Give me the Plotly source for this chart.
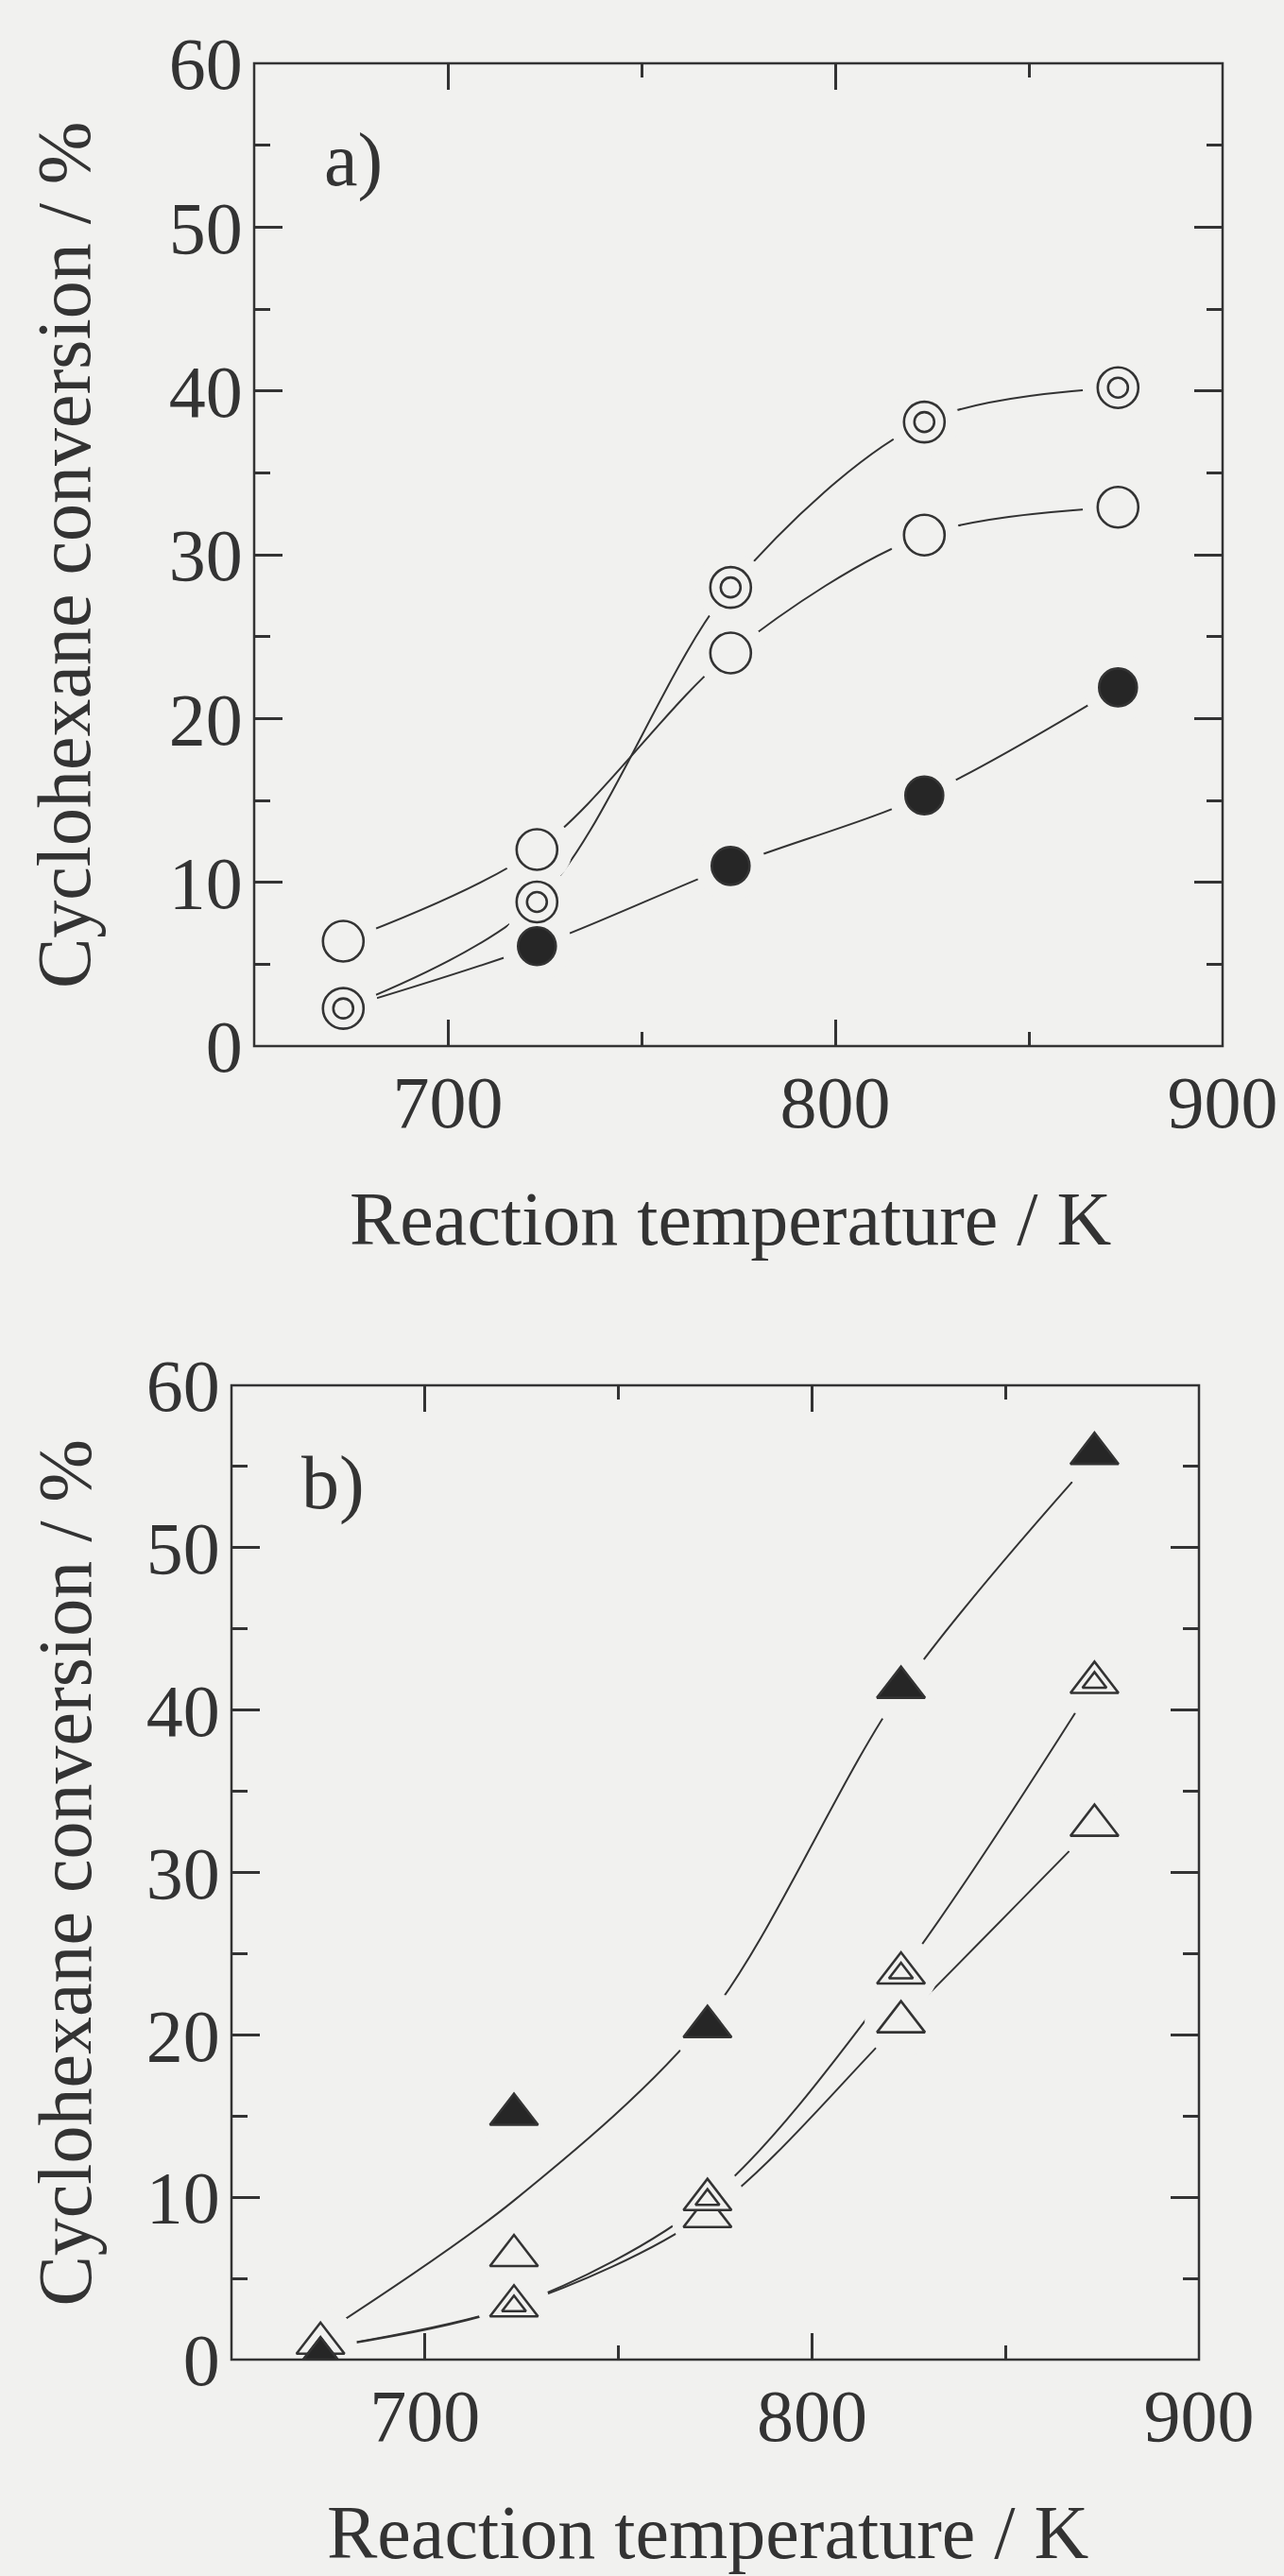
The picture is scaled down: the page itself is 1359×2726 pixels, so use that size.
import plotly.graph_objects as go

W, H = 1359, 2726

PAPER = "#f1f1ef"
INK = "#333333"
FONT = "Liberation Serif"

temperature = [673, 723, 773, 823, 873]

# (a) cyclohexane conversion, %
conv_open_circle = [6.4, 12.0, 24.0, 31.2, 32.9]
conv_double_circle = [2.3, 8.8, 28.0, 38.1, 40.2]
conv_filled_circle = [2.3, 6.1, 11.0, 15.3, 21.9]

# (b) cyclohexane conversion, %
conv_filled_tri = [0.1, 15.1, 20.5, 41.4, 55.8]
conv_open_tri = [1.0, 6.4, 8.8, 20.8, 32.9]
conv_double_tri = [0.1, 3.3, 9.85, 23.8, 41.7]

# smoothed guide curves of panel (b)
curve_filled_tri = [1.5, 9.8, 21.0, 41.2, 55.6]
curve_open_tri = [0.7, 3.3, 9.0, 20.8, 32.9]
curve_double_tri = [0.7, 3.3, 9.8, 23.8, 41.7]

x_range = [650, 900]
y_range = [0, 60]
x_title = "Reaction temperature / K"
y_title = "Cyclohexane conversion / %"
panel_tags = ["a)", "b)"]

# plot boxes in pixels: left, right, top, bottom
BOX_A = (269, 1294, 67, 1107)
BOX_B = (245, 1269, 1466, 2497)


def px_x(v):
    return v / W


def px_y(v):
    return 1 - v / H


def axis_pair(box, suffix):
    x0, x1, y0, y1 = box
    common = dict(
        showline=True, linecolor=INK, linewidth=2.5, mirror="ticks",
        ticks="inside", tickcolor=INK, tickwidth=2.5, automargin=False,
        showgrid=False, zeroline=False, layer="above traces",
        tickfont=dict(family=FONT, size=78, color=INK),
    )
    xa = dict(common, domain=[px_x(x0), px_x(x1)], range=x_range,
              anchor="y" + suffix, tick0=700, dtick=100, ticklen=28,
              ticklabelstandoff=-10,
              minor=dict(dtick=50, tick0=650, ticklen=15, tickwidth=2.5,
                         tickcolor=INK, ticks="inside"))
    ya = dict(common, domain=[px_y(y1), px_y(y0)], range=y_range,
              anchor="x" + suffix, tick0=0, dtick=10, ticklen=30,
              ticklabelstandoff=-6,
              minor=dict(dtick=5, ticklen=17, tickwidth=2.5,
                         tickcolor=INK, ticks="inside"))
    return xa, ya


fig = go.Figure()


def add_curve(xa, ya, ys):
    fig.add_trace(go.Scatter(
        x=temperature, y=ys, xaxis=xa, yaxis=ya, mode="lines", zorder=0,
        line=dict(color=INK, width=2.0, shape="spline", smoothing=0.9),
        hoverinfo="skip", showlegend=False))


def add_halo(xa, ya, ys, size):
    # paper-coloured disc that opens a small gap in the curves around each symbol
    fig.add_trace(go.Scatter(
        x=temperature, y=ys, xaxis=xa, yaxis=ya, mode="markers", zorder=1,
        marker=dict(symbol="circle", size=size, color=PAPER,
                    line=dict(color=PAPER, width=1)),
        cliponaxis=False, hoverinfo="skip", showlegend=False))


def add_markers(xa, ya, ys, symbol, size, fill, name, z):
    fig.add_trace(go.Scatter(
        x=temperature, y=ys, xaxis=xa, yaxis=ya, mode="markers", name=name,
        zorder=z,
        marker=dict(symbol=symbol, size=size, color=fill,
                    line=dict(color=INK, width=2.6)),
        cliponaxis=False, showlegend=False))


# ---- panel (a)
for ys in (conv_open_circle, conv_double_circle, conv_filled_circle):
    add_curve("x", "y", ys)
for ys in (conv_open_circle, conv_double_circle, conv_filled_circle):
    add_halo("x", "y", ys, 74)
add_markers("x", "y", conv_filled_circle, "circle", 40, "#262626", "filled circle", 2)
add_markers("x", "y", conv_open_circle, "circle", 43, PAPER, "open circle", 3)
add_markers("x", "y", conv_double_circle, "circle", 43, PAPER, "double circle", 3)
add_markers("x", "y", conv_double_circle, "circle", 21, PAPER, "double circle", 4)

# ---- panel (b)
for ys in (curve_filled_tri, curve_open_tri, curve_double_tri):
    add_curve("x2", "y2", ys)
for ys in (conv_filled_tri, conv_open_tri, conv_double_tri):
    add_halo("x2", "y2", ys, 76)
add_markers("x2", "y2", conv_open_tri, "triangle-up", 44, PAPER, "open triangle", 2)
add_markers("x2", "y2", conv_double_tri, "triangle-up", 44, PAPER, "double triangle", 3)
add_markers("x2", "y2", conv_double_tri, "triangle-up", 22, PAPER, "double triangle", 4)
add_markers("x2", "y2", conv_filled_tri, "triangle-up", 44, "#262626", "filled triangle", 5)

xa1, ya1 = axis_pair(BOX_A, "")
xa2, ya2 = axis_pair(BOX_B, "2")

# plot frames, kept above the symbols
shapes = [
    dict(type="rect", xref=f"x{s} domain", yref=f"y{s} domain",
         x0=0, x1=1, y0=0, y1=1, layer="above",
         line=dict(color=INK, width=2.5), fillcolor="rgba(0,0,0,0)")
    for s in ("", "2")
]

annotations = []
for box, tag in ((BOX_A, panel_tags[0]), (BOX_B, panel_tags[1])):
    x0, x1, y0, y1 = box
    annotations.append(dict(
        text=x_title, xref="paper", yref="paper",
        x=px_x((x0 + x1) / 2 - 8), y=px_y(y1 + 183),
        xanchor="center", yanchor="middle", showarrow=False,
        font=dict(family=FONT, size=80, color=INK)))
    annotations.append(dict(
        text=y_title, xref="paper", yref="paper", textangle=-90,
        x=px_x(68), y=px_y((y0 + y1) / 2),
        xanchor="center", yanchor="middle", showarrow=False,
        font=dict(family=FONT, size=80, color=INK)))
    annotations.append(dict(
        text=tag, xref="paper", yref="paper",
        x=px_x(x0 + 72), y=px_y(y0 + 103),
        xanchor="left", yanchor="middle", showarrow=False,
        font=dict(family=FONT, size=80, color=INK)))

fig.update_layout(
    width=W, height=H,
    margin=dict(l=0, r=0, t=0, b=0, autoexpand=False),
    paper_bgcolor=PAPER, plot_bgcolor="rgba(0,0,0,0)",
    xaxis=xa1, yaxis=ya1, xaxis2=xa2, yaxis2=ya2,
    shapes=shapes, annotations=annotations,
    showlegend=False,
)

fig.write_html("out.html")
